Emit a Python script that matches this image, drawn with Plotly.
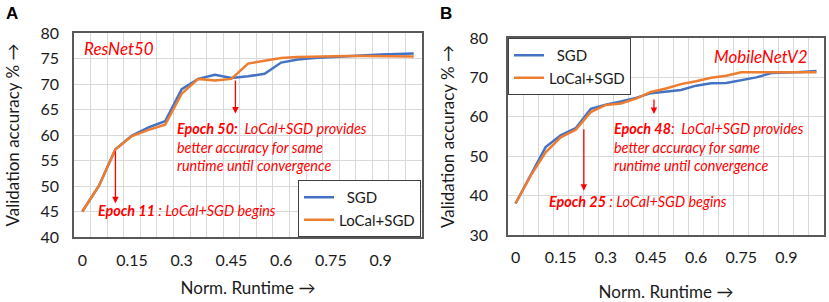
import plotly.graph_objects as go

# ---- data ----
X = [0, 0.05, 0.1, 0.15, 0.2, 0.25, 0.3, 0.35, 0.4, 0.45, 0.5,
     0.55, 0.6, 0.65, 0.7, 0.75, 0.8, 0.85, 0.9, 0.95, 1.0]
TICK_VALS = [0, 0.15, 0.3, 0.45, 0.6, 0.75, 0.9]
TICK_TEXT = ["0", "0.15", "0.3", "0.45", "0.6", "0.75", "0.9"]

SGD_A = [45.0, 50.0, 57.2, 59.9, 61.5, 62.7, 69.0, 71.0, 71.8, 71.2, 71.5,
         72.0, 74.2, 74.8, 75.1, 75.3, 75.5, 75.6, 75.8, 75.9, 76.0]
LOCAL_A = [45.0, 50.0, 57.2, 59.8, 61.0, 62.0, 68.1, 71.0, 70.7, 71.0, 74.0,
           74.6, 75.1, 75.3, 75.4, 75.5, 75.5, 75.5, 75.5, 75.5, 75.4]

SGD_B = [38.0, 45.0, 52.3, 55.3, 57.1, 62.0, 63.1, 63.9, 64.8, 66.0, 66.4,
         66.8, 67.9, 68.5, 68.6, 69.3, 70.0, 71.1, 71.2, 71.4, 71.6]
LOCAL_B = [38.0, 45.0, 51.0, 54.8, 56.7, 61.2, 63.0, 63.4, 64.6, 66.3, 67.2,
           68.3, 69.0, 69.9, 70.4, 71.3, 71.3, 71.3, 71.3, 71.3, 71.3]

BLUE = "#4472C4"
ORANGE = "#ED7D31"
RED = "#FF0000"
FONT = "Lato, 'Open Sans', sans-serif"

fig = go.Figure()
fig.add_trace(go.Scatter(x=X, y=SGD_A, mode="lines", name="\u00a0\u00a0SGD",
                         line=dict(color=BLUE, width=2.5), xaxis="x", yaxis="y", legend="legend"))
fig.add_trace(go.Scatter(x=X, y=LOCAL_A, mode="lines", name="LoCal+SGD",
                         line=dict(color=ORANGE, width=2.5), xaxis="x", yaxis="y", legend="legend"))
fig.add_trace(go.Scatter(x=X, y=SGD_B, mode="lines", name="\u00a0\u00a0SGD",
                         line=dict(color=BLUE, width=2.5), xaxis="x2", yaxis="y2", legend="legend2"))
fig.add_trace(go.Scatter(x=X, y=LOCAL_B, mode="lines", name="LoCal+SGD",
                         line=dict(color=ORANGE, width=2.5), xaxis="x2", yaxis="y2", legend="legend2"))

W, H = 829, 302


def xaxis(domain, anchor, lab_stand, title_stand):
    return dict(
        domain=domain, range=[-0.025, 1.025], anchor=anchor, automargin=False,
        tickmode="array", tickvals=TICK_VALS, ticktext=TICK_TEXT,
        showgrid=False, zeroline=False,
        minor=dict(tickmode="linear", tick0=0.025, dtick=0.05, showgrid=True,
                   gridcolor="#D9D9D9", gridwidth=1, ticks=""),
        showline=True, mirror=True, linecolor="#595959", linewidth=1.5,
        ticks="", ticklabelstandoff=lab_stand,
        tickfont=dict(family=FONT, size=16, color="#1a1a1a"),
        title=dict(text="Norm. Runtime \u2192", standoff=title_stand,
                   font=dict(family=FONT, size=17, color="#1a1a1a")),
    )


def yaxis(domain, rng, dtick, standoff, anchor, tstand):
    return dict(
        domain=domain, range=rng, dtick=dtick, tick0=rng[0], automargin=False,
        showgrid=True, gridcolor="#D9D9D9", gridwidth=1, zeroline=False,
        showline=True, mirror=True, linecolor="#595959", linewidth=1.5,
        ticks="", ticklabelstandoff=standoff, anchor=anchor,
        tickfont=dict(family=FONT, size=16, color="#1a1a1a"),
        title=dict(text="Validation accuracy % \u2192", standoff=tstand,
                   font=dict(family=FONT, size=17, color="#1a1a1a")),
    )


fig.update_layout(
    width=W, height=H,
    margin=dict(l=0, r=0, t=0, b=0),
    paper_bgcolor="white", plot_bgcolor="white",
    font=dict(family=FONT, color="#1a1a1a"),
    xaxis=xaxis([74 / W, 422 / W], "y", 8, 14),
    yaxis=yaxis([1 - 237 / H, 1 - 33 / H], [40, 80], 5, 10, "x", 17),
    xaxis2=xaxis([508 / W, 824 / W], "y2", 7, 21),
    yaxis2=yaxis([1 - 235 / H, 1 - 38 / H], [30, 80], 10, 15, "x2", 11),
    legend=dict(x=421 / W, y=1 - 237 / H, xanchor="right", yanchor="bottom",
                bgcolor="white", bordercolor="#404040", borderwidth=1,
                font=dict(family=FONT, size=15, color="#1a1a1a"),
                itemwidth=30, tracegroupgap=0),
    legend2=dict(x=508 / W, y=1 - 38 / H, xanchor="left", yanchor="top",
                 bgcolor="white", bordercolor="#404040", borderwidth=1,
                 font=dict(family=FONT, size=15, color="#1a1a1a"),
                 itemwidth=30, tracegroupgap=0),
    showlegend=True,
)

ann = []
# panel labels
ann.append(dict(text="<b>A</b>", x=4 / W, y=1 - 13 / H, xref="paper", yref="paper",
                xanchor="left", yanchor="middle", showarrow=False,
                font=dict(family="Liberation Sans, Arial, sans-serif", size=17, color="black")))
ann.append(dict(text="<b>B</b>", x=438 / W, y=1 - 13 / H, xref="paper", yref="paper",
                xanchor="left", yanchor="middle", showarrow=False,
                font=dict(family="Liberation Sans, Arial, sans-serif", size=17, color="black")))

redfont = dict(family=FONT, size=14.4, color=RED)
# Panel A
ann.append(dict(text="<i>ResNet50</i>", x=0.0, y=77.0, xref="x", yref="y", xanchor="left",
                yanchor="middle", showarrow=False, font=dict(family=FONT, size=17, color=RED)))
ann.append(dict(text="", x=0.1, y=46.6, ax=0.1, ay=57.1, xref="x", yref="y", axref="x", ayref="y",
                showarrow=True, arrowhead=2, arrowsize=1, arrowwidth=1.3, arrowcolor=RED))
ann.append(dict(text="<b><i>Epoch 11</i></b><i> : LoCal+SGD begins</i>", x=0.04, y=45.1,
                xref="x", yref="y", xanchor="left", yanchor="middle", showarrow=False, font=redfont))
ann.append(dict(text="", x=0.462, y=64.2, ax=0.462, ay=71.0, xref="x", yref="y", axref="x", ayref="y",
                showarrow=True, arrowhead=2, arrowsize=1, arrowwidth=1.3, arrowcolor=RED))
ann.append(dict(text="<b><i>Epoch 50:</i></b><i>\u00a0 LoCal+SGD provides<br>better accuracy for same<br>"
                     "runtime until convergence</i>",
                x=0.28, y=57.6, xref="x", yref="y", xanchor="left", yanchor="middle", align="left",
                showarrow=False, font=redfont))
# Panel B
ann.append(dict(text="<i>MobileNetV2</i>", x=0.977, y=75.4, xref="x2", yref="y2", xanchor="right",
                yanchor="middle", showarrow=False, font=dict(family=FONT, size=17, color=RED)))
ann.append(dict(text="", x=0.227, y=41.2, ax=0.227, ay=57.2, xref="x2", yref="y2", axref="x2", ayref="y2",
                showarrow=True, arrowhead=2, arrowsize=1, arrowwidth=1.3, arrowcolor=RED))
ann.append(dict(text="<b><i>Epoch 25</i></b><i> : LoCal+SGD begins</i>", x=0.105, y=38.4,
                xref="x2", yref="y2", xanchor="left", yanchor="middle", showarrow=False, font=redfont))
ann.append(dict(text="", x=0.46, y=60.7, ax=0.46, ay=64.8, xref="x2", yref="y2", axref="x2", ayref="y2",
                showarrow=True, arrowhead=2, arrowsize=1, arrowwidth=1.3, arrowcolor=RED))
ann.append(dict(text="<b><i>Epoch 48</i></b><i>:\u00a0 LoCal+SGD provides<br>better accuracy for same<br>"
                     "runtime until convergence</i>",
                x=0.32, y=52.4, xref="x2", yref="y2", xanchor="left", yanchor="middle", align="left",
                showarrow=False, font=redfont))

fig.update_layout(annotations=ann)
fig.write_html("out.html", config={"displayModeBar": False},
               post_script="document.body.style.margin='0';")
